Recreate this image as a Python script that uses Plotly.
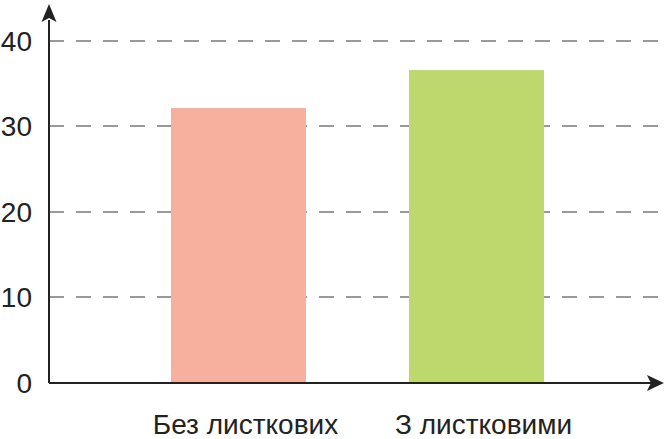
import plotly.graph_objects as go

categories = ["Без листкових", "З листковими"]
values = [32.2, 36.6]
colors = ["#f8b09e", "#bdd96e"]
y_ticks = [0, 10, 20, 30, 40]

fig = go.Figure()
fig.add_trace(go.Bar(
    x=categories, y=values, marker=dict(color=colors, line=dict(width=0)),
    width=0.567, hoverinfo="skip"
))

fig.update_layout(
    width=667, height=439,
    margin=dict(l=49, r=0, t=5, b=56),
    paper_bgcolor="white", plot_bgcolor="white",
    showlegend=False,
    font=dict(family="Liberation Sans, Arial, sans-serif", color="#222"),
    bargap=0,
)
fig.update_xaxes(
    range=[-0.796, 1.8], showgrid=False, showline=False, zeroline=False,
    ticks="", tickfont=dict(size=28, color="#222"), ticklabelstandoff=22,
    ticklabelshift=7, automargin=False,
)
fig.update_yaxes(
    range=[0, 44.2], tickvals=y_ticks, showline=False, zeroline=False,
    showgrid=True, gridcolor="#9a9a9a", gridwidth=1.5, griddash="15px,12px",
    ticks="", tickfont=dict(size=28, color="#222"), ticklabelstandoff=16,
    automargin=False,
)

axis_color = "#222222"
# y axis line
fig.add_shape(type="line", xref="paper", yref="paper", x0=0, x1=0, y0=0, y1=0.96,
              line=dict(color=axis_color, width=2))
# x axis line
fig.add_shape(type="line", xref="paper", yref="paper", x0=0, x1=0.975, y0=0, y1=0,
              line=dict(color=axis_color, width=2))
# arrowheads (pixel paths)
fig.add_shape(type="path", xref="paper", yref="paper", xsizemode="pixel", ysizemode="pixel",
              xanchor=0, yanchor=1, path="M 0 1 L -7.5 -17 L 0 -13 L 7.5 -17 Z",
              fillcolor=axis_color, line=dict(width=0))
fig.add_shape(type="path", xref="paper", yref="paper", xsizemode="pixel", ysizemode="pixel",
              xanchor=0.995, yanchor=0, path="M 0 0 L -17 8 L -13 0 L -17 -8 Z",
              fillcolor=axis_color, line=dict(width=0))

fig.write_html("out.html", config={"displayModeBar": False},
               post_script="document.body.style.margin='0';document.body.style.overflow='hidden';")
